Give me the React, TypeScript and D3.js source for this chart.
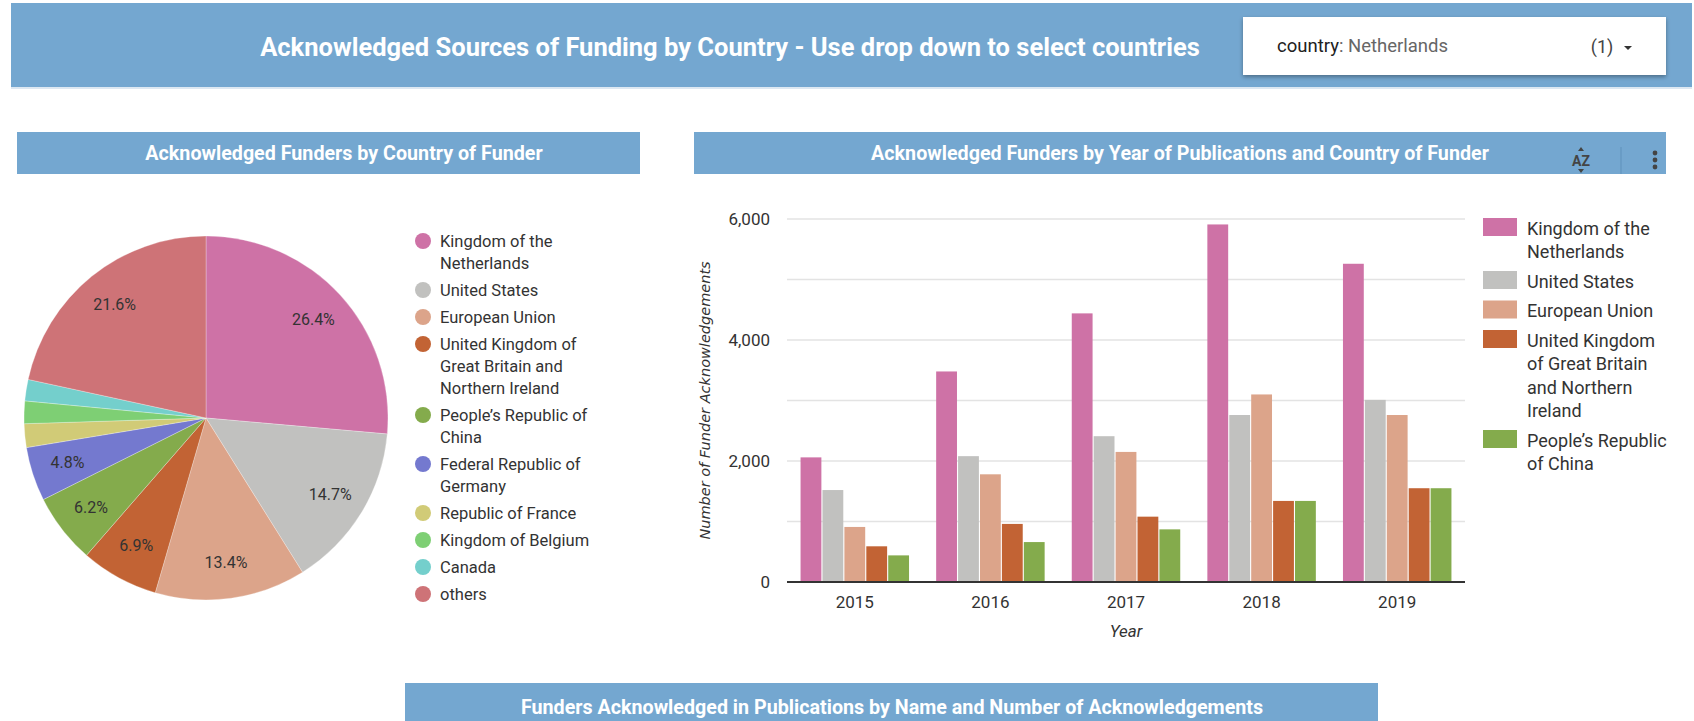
import { useEffect, useRef } from 'react';
import * as d3 from 'd3';

// pie: share of acknowledgements by funder country (percent)
const pieCountries = [
  'Kingdom of the Netherlands',
  'United States',
  'European Union',
  'United Kingdom of Great Britain and Northern Ireland',
  'People’s Republic of China',
  'Federal Republic of Germany',
  'Republic of France',
  'Kingdom of Belgium',
  'Canada',
  'others'
];
const pieShares = [26.4, 14.7, 13.4, 6.9, 6.2, 4.8, 2.1, 2.0, 1.9, 21.6];
const pieColors = [
  '#ce72a6', '#c1c1bf', '#dca48a', '#c26334', '#84ab4c',
  '#7479cf', '#d1cb77', '#7ecf74', '#74cfcc', '#ce7377'
];

// bars: acknowledgements per year and country
const years = ['2015', '2016', '2017', '2018', '2019'];
const barSeries = pieCountries.slice(0, 5);
const netherlands = [2060, 3480, 4440, 5910, 5260];
const unitedStates = [1520, 2080, 2410, 2760, 3010];
const europeanUnion = [910, 1780, 2150, 3100, 2760];
const unitedKingdom = [590, 960, 1080, 1340, 1550];
const china = [440, 660, 870, 1340, 1550];
const yTicks = [0, 2000, 4000, 6000];
const gridTicks = [1000, 2000, 3000, 4000, 5000, 6000];

const HEADER_BLUE = '#74a7d0';
const FONT = 'Roboto, "Noto Sans", sans-serif';

const measureCtx = document.createElement('canvas').getContext('2d') as CanvasRenderingContext2D;

function wrap(text: string, font: string, maxWidth: number) {
  measureCtx.font = font;
  const lines: string[] = [];
  let line = '';
  text.split(' ').forEach(w => {
    const t = line ? `${line} ${w}` : w;
    if (line && measureCtx.measureText(t).width > maxWidth) {
      lines.push(line);
      line = w;
    } else {
      line = t;
    }
  });
  lines.push(line);
  return lines;
}

function drawHeaders(svg: d3.Selection<SVGSVGElement, unknown, null, undefined>) {
  const defs = svg.append('defs');
  defs
    .append('filter')
    .attr('id', 'shadow')
    .attr('x', '-10%')
    .attr('y', '-30%')
    .attr('width', '120%')
    .attr('height', '160%')
    .append('feDropShadow')
    .attr('dx', 0)
    .attr('dy', 2)
    .attr('stdDeviation', 2)
    .attr('flood-color', '#000')
    .attr('flood-opacity', 0.35);

  // top banner
  svg.append('rect').attr('x', 11).attr('y', 3).attr('width', 1681).attr('height', 84).attr('fill', HEADER_BLUE);
  svg.append('rect').attr('x', 11).attr('y', 87).attr('width', 1681).attr('height', 2).attr('fill', '#dde8f2');
  svg
    .append('text')
    .attr('x', 730)
    .attr('y', 47)
    .attr('text-anchor', 'middle')
    .attr('dominant-baseline', 'central')
    .attr('fill', '#fff')
    .style('font', `bold 25.5px ${FONT}`)
    .text('Acknowledged Sources of Funding by Country - Use drop down to select countries');

  // dropdown
  const dd = svg.append('g');
  dd.append('rect')
    .attr('x', 1243)
    .attr('y', 17)
    .attr('width', 423)
    .attr('height', 58)
    .attr('fill', '#fff')
    .attr('filter', 'url(#shadow)');
  const ddText = dd
    .append('text')
    .attr('x', 1277)
    .attr('y', 46)
    .attr('dominant-baseline', 'central')
    .style('font', `18.5px ${FONT}`);
  ddText.append('tspan').attr('fill', '#212121').text('country');
  ddText.append('tspan').attr('fill', '#666').text(': Netherlands');
  dd.append('text')
    .attr('x', 1602)
    .attr('y', 46)
    .attr('text-anchor', 'middle')
    .attr('dominant-baseline', 'central')
    .attr('fill', '#444')
    .style('font', `18px ${FONT}`)
    .text('(1)');
  dd.append('path').attr('d', 'M1624,46 L1632,46 L1628,50 Z').attr('fill', '#333');

  // panel title bars
  const bars = [
    { x: 17, w: 623, y: 132, h: 42, cx: 344, label: 'Acknowledged Funders by Country of Funder' },
    { x: 694, w: 972, y: 132, h: 42, cx: 1180, label: 'Acknowledged Funders by Year of Publications and Country of Funder' },
    { x: 405, w: 973, y: 683, h: 50, cx: 892, label: 'Funders Acknowledged in Publications by Name and Number of Acknowledgements' }
  ];
  bars.forEach(b => {
    svg.append('rect').attr('x', b.x).attr('y', b.y).attr('width', b.w).attr('height', b.h).attr('fill', HEADER_BLUE);
    svg
      .append('text')
      .attr('x', b.cx)
      .attr('y', b.y === 683 ? 707 : 153)
      .attr('text-anchor', 'middle')
      .attr('dominant-baseline', 'central')
      .attr('fill', '#fff')
      .style('font', `bold 19.7px ${FONT}`)
      .text(b.label);
  });

  // sort + menu icons
  const icons = svg.append('g').attr('fill', '#444');
  icons
    .append('text')
    .attr('x', 1581)
    .attr('y', 161)
    .attr('text-anchor', 'middle')
    .attr('dominant-baseline', 'central')
    .style('font', `bold 14px ${FONT}`)
    .text('AZ');
  icons.append('path').attr('d', 'M1578,151 L1584,151 L1581,147 Z');
  icons.append('path').attr('d', 'M1578,169 L1584,169 L1581,173 Z');
  svg.append('line').attr('x1', 1621).attr('x2', 1621).attr('y1', 147).attr('y2', 174).attr('stroke', '#5f91bb');
  [153, 160, 167].forEach(cy => icons.append('circle').attr('cx', 1655).attr('cy', cy).attr('r', 2.4));
}

function drawPie(svg: d3.Selection<SVGSVGElement, unknown, null, undefined>) {
  const cx = 206;
  const cy = 418;
  const r = 182;

  const pie = d3.pie<number>().sort(null).value(d => d);
  const arcs = pie(pieShares);
  const arc = d3.arc<d3.PieArcDatum<number>>().innerRadius(0).outerRadius(r);
  const labelArc = d3.arc<d3.PieArcDatum<number>>().innerRadius(r * 0.8).outerRadius(r * 0.8);

  const g = svg.append('g').attr('transform', `translate(${cx},${cy})`);
  g.selectAll('path')
    .data(arcs)
    .join('path')
    .attr('d', arc)
    .attr('fill', (_, i) => pieColors[i])
    .attr('stroke', '#fff')
    .attr('stroke-opacity', 0.35)
    .attr('stroke-width', 0.8);

  g.selectAll('text')
    .data(arcs.filter(a => a.data >= 4))
    .join('text')
    .attr('transform', d => `translate(${labelArc.centroid(d)})`)
    .attr('text-anchor', 'middle')
    .attr('dominant-baseline', 'central')
    .attr('fill', '#333')
    .style('font', `16px ${FONT}`)
    .text(d => `${d.data.toFixed(1)}%`);

  // legend
  const font = `16.5px ${FONT}`;
  const lineH = 22;
  let y = 241;
  const legend = svg.append('g');
  pieCountries.forEach((name, i) => {
    const lines = wrap(name, font, 168);
    legend.append('circle').attr('cx', 423).attr('cy', y).attr('r', 8).attr('fill', pieColors[i]);
    const t = legend.append('text').attr('fill', '#333').style('font', font);
    lines.forEach((ln, j) => {
      t.append('tspan')
        .attr('x', 440)
        .attr('y', y + j * lineH)
        .attr('dominant-baseline', 'central')
        .text(ln);
    });
    y += lines.length * lineH + 5;
  });
}

function drawBars(svg: d3.Selection<SVGSVGElement, unknown, null, undefined>) {
  const left = 787;
  const right = 1465;
  const top = 219;
  const bottom = 582;
  const seriesValues = [netherlands, unitedStates, europeanUnion, unitedKingdom, china];

  const x0 = d3.scaleBand().domain(years).range([left, right]).paddingInner(0.2).paddingOuter(0.1);
  const x1 = d3.scaleBand().domain(barSeries).range([0, x0.bandwidth()]).paddingInner(0.05);
  const y = d3.scaleLinear().domain([0, 6000]).range([bottom, top]);

  // grid
  svg
    .append('g')
    .selectAll('line')
    .data(gridTicks)
    .join('line')
    .attr('x1', left)
    .attr('x2', right)
    .attr('y1', d => y(d))
    .attr('y2', d => y(d))
    .attr('stroke', '#e3e3e3')
    .attr('stroke-width', 1.5);

  // bars
  const groups = svg
    .append('g')
    .selectAll('g')
    .data(years)
    .join('g')
    .attr('transform', d => `translate(${x0(d)},0)`);
  groups
    .selectAll('rect')
    .data((_, yi) => barSeries.map((s, si) => ({ s, si, v: seriesValues[si][yi] })))
    .join('rect')
    .attr('x', d => x1(d.s) as number)
    .attr('width', x1.bandwidth())
    .attr('y', d => y(d.v))
    .attr('height', d => y(0) - y(d.v))
    .attr('fill', d => pieColors[d.si]);

  // baseline
  svg
    .append('line')
    .attr('x1', left)
    .attr('x2', right)
    .attr('y1', y(0))
    .attr('y2', y(0))
    .attr('stroke', '#333')
    .attr('stroke-width', 2);

  const fmt = d3.format(',');
  svg
    .append('g')
    .selectAll('text')
    .data(yTicks)
    .join('text')
    .attr('x', 770)
    .attr('y', d => y(d))
    .attr('text-anchor', 'end')
    .attr('dominant-baseline', 'central')
    .attr('fill', '#333')
    .style('font', `17px ${FONT}`)
    .text(d => fmt(d));

  svg
    .append('g')
    .selectAll('text')
    .data(years)
    .join('text')
    .attr('x', d => (x0(d) as number) + x0.bandwidth() / 2)
    .attr('y', 602)
    .attr('text-anchor', 'middle')
    .attr('dominant-baseline', 'central')
    .attr('fill', '#333')
    .style('font', `17px ${FONT}`)
    .text(d => d);

  svg
    .append('text')
    .attr('x', (left + right) / 2)
    .attr('y', 631)
    .attr('text-anchor', 'middle')
    .attr('dominant-baseline', 'central')
    .attr('fill', '#333')
    .style('font', `italic 17px ${FONT}`)
    .text('Year');

  svg
    .append('text')
    .attr('transform', `translate(705,${(top + bottom) / 2}) rotate(-90)`)
    .attr('text-anchor', 'middle')
    .attr('dominant-baseline', 'central')
    .attr('fill', '#333')
    .style('font', `italic 14.5px "DejaVu Sans", ${FONT}`)
    .text('Number of Funder Acknowledgements');

  // legend
  const font = `18px ${FONT}`;
  const lineH = 23.5;
  let ly = 228;
  const legend = svg.append('g');
  barSeries.forEach((name, i) => {
    const lines = wrap(name, font, 146);
    legend
      .append('rect')
      .attr('x', 1483)
      .attr('y', ly - 10)
      .attr('width', 34)
      .attr('height', 18)
      .attr('fill', pieColors[i]);
    const t = legend.append('text').attr('fill', '#333').style('font', font);
    lines.forEach((ln, j) => {
      t.append('tspan')
        .attr('x', 1527)
        .attr('y', ly + j * lineH)
        .attr('dominant-baseline', 'central')
        .text(ln);
    });
    ly += lines.length * lineH + 6;
  });
}

export default function App() {
  const ref = useRef<SVGSVGElement>(null);

  useEffect(() => {
    if (!ref.current) return;
    const svg = d3.select(ref.current);
    svg.selectAll('*').remove();
    drawHeaders(svg);
    drawPie(svg);
    drawBars(svg);
  }, []);

  return (
    <div style={{ position: 'absolute', left: 0, top: 0 }}>
      <svg ref={ref} width={1694} height={721} style={{ display: 'block', background: '#fff' }} />
    </div>
  );
}
